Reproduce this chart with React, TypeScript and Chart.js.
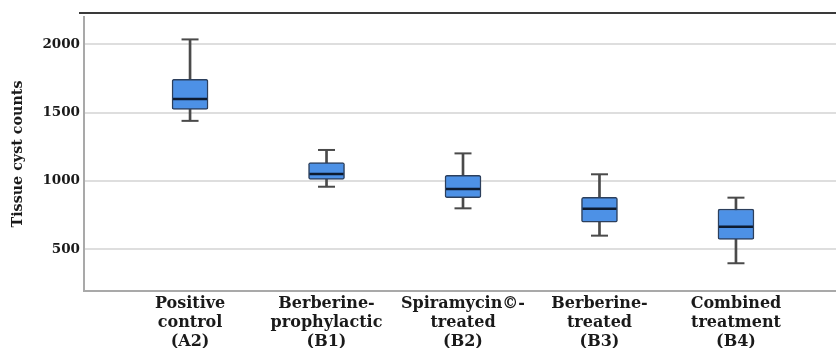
import React, { useEffect, useRef } from "react";
import { Chart, registerables } from "chart.js";

Chart.register(...registerables);

const categories: string[][] = [
  ["Positive", "control", "(A2)"],
  ["Berberine-", "prophylactic", "(B1)"],
  ["Spiramycin©-", "treated", "(B2)"],
  ["Berberine-", "treated", "(B3)"],
  ["Combined", "treatment", "(B4)"],
];
const whiskerLow = [1440, 958, 800, 600, 398];
const q1 = [1524, 1012, 878, 698, 573];
const median = [1600, 1051, 941, 797, 665];
const q3 = [1744, 1134, 1041, 880, 795];
const whiskerHigh = [2036, 1227, 1202, 1049, 878];
const yTicks = [500, 1000, 1500, 2000];

const FONT = "'DejaVu Serif', serif";

export default function App() {
  const ref = useRef<HTMLCanvasElement | null>(null);

  useEffect(() => {
    if (!ref.current) return;
    const idx = categories.map((_, i) => i);
    const chart = new Chart(ref.current, {
      type: "bar",
      data: {
        datasets: [
          {
            type: "scatter",
            label: "median",
            data: idx.map((i) => ({ x: i, y: median[i] })),
            pointStyle: "line",
            pointRadius: 17,
            pointHoverRadius: 17,
            pointBorderWidth: 2.5,
            pointBorderColor: "#0d1b30",
            pointBackgroundColor: "#0d1b30",
            showLine: false,
            order: 1,
          } as any,
          {
            type: "scatter",
            label: "caps",
            data: [
              ...idx.map((i) => ({ x: i, y: whiskerLow[i] })),
              ...idx.map((i) => ({ x: i, y: whiskerHigh[i] })),
            ],
            pointStyle: "line",
            pointRadius: 8.5,
            pointHoverRadius: 8.5,
            pointBorderWidth: 2,
            pointBorderColor: "#4a4a4a",
            pointBackgroundColor: "#4a4a4a",
            showLine: false,
            order: 2,
          } as any,
          {
            type: "bar",
            label: "box",
            data: idx.map((i) => ({ x: i, y: [q1[i], q3[i]] })),
            backgroundColor: "#4d91e6",
            borderColor: "#2c3f5c",
            borderWidth: 1.5,
            borderSkipped: false,
            borderRadius: 2,
            barThickness: 36,
            grouped: false,
            order: 3,
          } as any,
          {
            type: "bar",
            label: "whisker",
            data: idx.map((i) => ({ x: i, y: [whiskerLow[i], whiskerHigh[i]] })),
            backgroundColor: "#4a4a4a",
            borderWidth: 0,
            barThickness: 2,
            grouped: false,
            order: 4,
          } as any,
        ],
      },
      options: {
        animation: false,
        responsive: false,
        layout: { autoPadding: false, padding: { top: 17, left: 0, right: 0, bottom: 0 } },
        plugins: {
          legend: { display: false },
          tooltip: { enabled: false },
        },
        scales: {
          x: {
            type: "linear",
            offset: false,
            min: -0.777,
            max: 4.733,
            grid: { display: false, offset: false, drawTicks: false },
            border: { display: true, color: "#a9a9a9", width: 2 },
            afterBuildTicks: (scale: any) => {
              scale.ticks = idx.map((i) => ({ value: i }));
            },
            afterFit: (scale: any) => {
              scale.height = 57;
              scale.paddingLeft = 0;
              scale.paddingRight = 0;
            },
            ticks: {
              autoSkip: false,
              maxRotation: 0,
              minRotation: 0,
              padding: 3,
              color: "#1a1a1a",
              font: { family: FONT, weight: "bold", size: 16, lineHeight: 1.1875 },
              callback: (v: any) => categories[Math.round(Number(v))] ?? "",
            },
          },
          y: {
            type: "linear",
            min: 195,
            max: 2200,
            afterBuildTicks: (scale: any) => {
              scale.ticks = yTicks.map((v) => ({ value: v }));
            },
            afterFit: (scale: any) => {
              scale.width = 84;
              scale.paddingTop = 0;
              scale.paddingBottom = 0;
            },
            grid: { color: "#dedede", lineWidth: 2, drawTicks: false },
            border: { display: true, color: "#a9a9a9", width: 2 },
            ticks: {
              padding: 4,
              color: "#1a1a1a",
              font: { family: FONT, weight: "bold", size: 13.5 },
              callback: (v: any) => String(v),
            },
            title: {
              display: true,
              text: "Tissue cyst counts",
              color: "#1a1a1a",
              padding: { top: 9.5, bottom: 0 },
              font: { family: FONT, weight: "bold", size: 14.3 },
            },
          },
        },
      } as any,
    });
    return () => chart.destroy();
  }, []);

  return (
    <div
      style={{
        position: "fixed",
        left: 0,
        top: 0,
        width: 836,
        height: 348,
        background: "#ffffff",
        overflow: "hidden",
      }}
    >
      <canvas ref={ref} width={836} height={348} style={{ display: "block" }} />
      <div
        style={{
          position: "absolute",
          left: 79,
          right: 0,
          top: 12,
          height: 2,
          background: "#3a3a3a",
        }}
      />
    </div>
  );
}
